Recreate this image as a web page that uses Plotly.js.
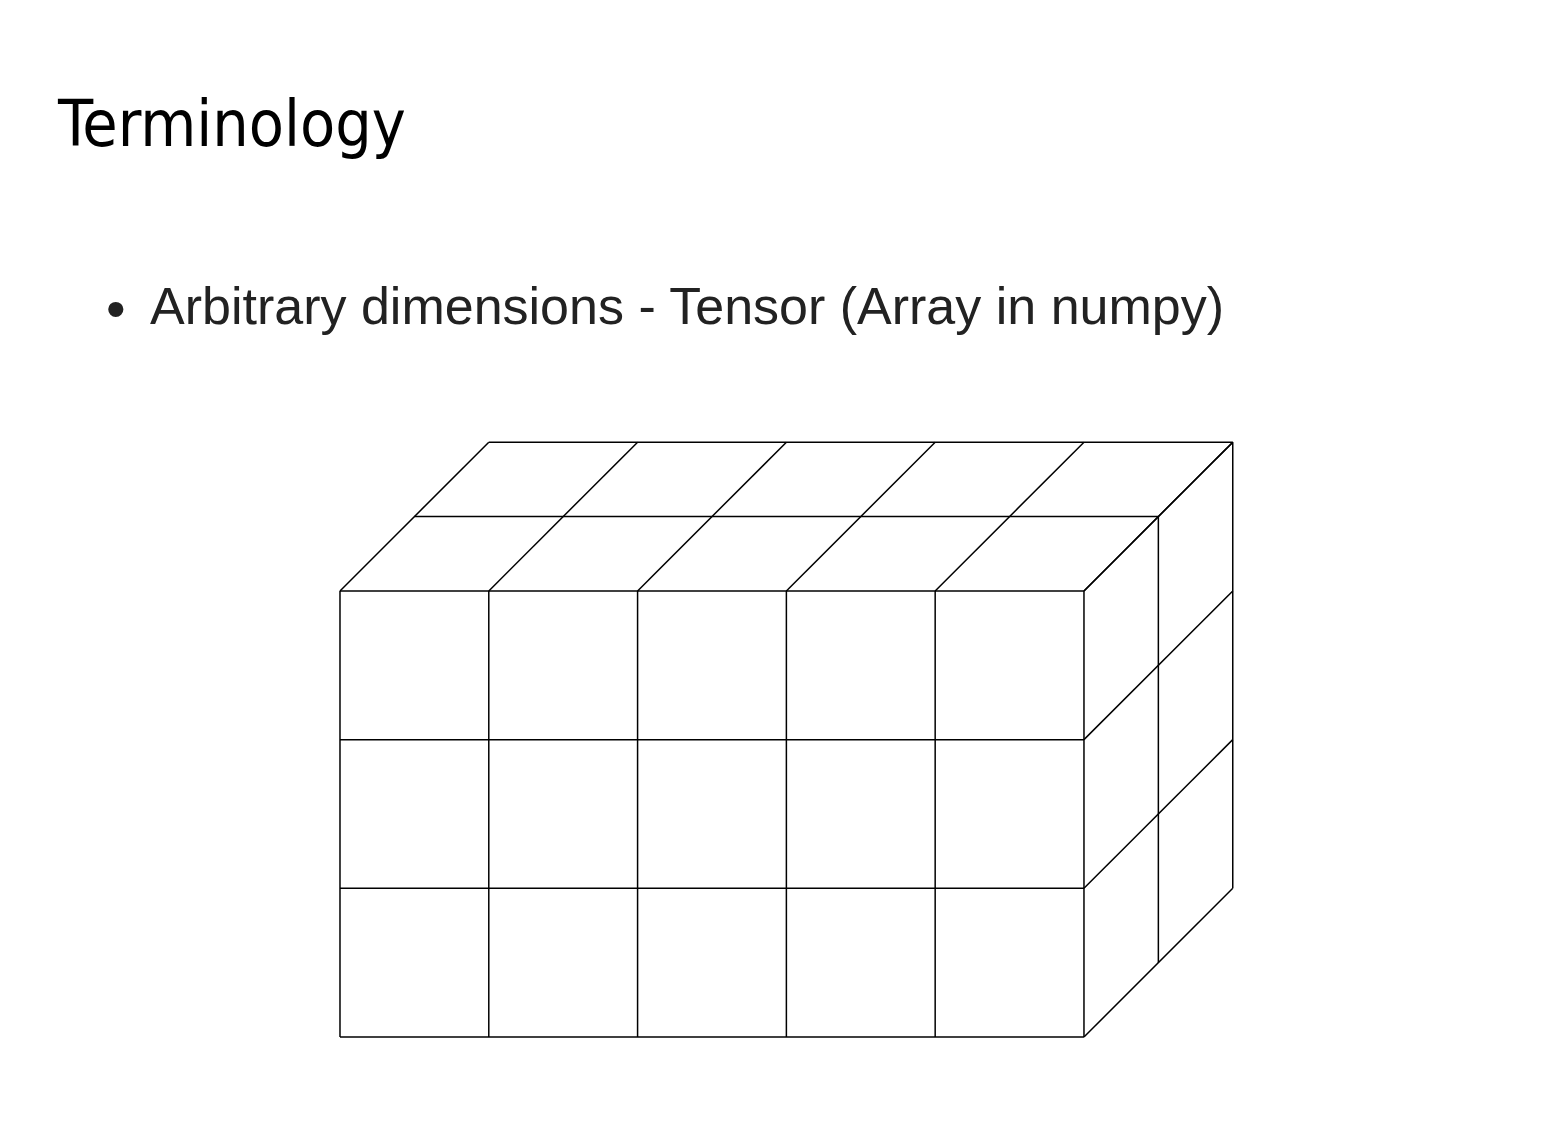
<!DOCTYPE html>
<html><head><meta charset="utf-8">
<script src="https://cdn.plot.ly/plotly-3.0.1.min.js"></script>
<style>body{margin:0;background:#fff}</style>
</head><body>
<div id="chart" style="width:1561px;height:1138px"></div>
<script>
// tensor shape: columns, rows, depth
const nCols = 5;
const nRows = 3;
const nDepth = 2;
const depthShift = 0.5; // oblique projection factor
const titleText = 'Terminology';
const bulletText = 'Arbitrary dimensions - Tensor (Array in numpy)';

function proj(x, y, z) { return [x + depthShift * z, y + depthShift * z]; }

const xs = [], ys = [];
function seg(a, b) {
  const p = proj(...a), q = proj(...b);
  xs.push(p[0], q[0], null); ys.push(p[1], q[1], null);
}
// front face
for (let i = 0; i <= nCols; i++) seg([i, 0, 0], [i, nRows, 0]);
for (let j = 0; j <= nRows; j++) seg([0, j, 0], [nCols, j, 0]);
// top face
for (let k = 1; k <= nDepth; k++) seg([0, nRows, k], [nCols, nRows, k]);
for (let i = 0; i <= nCols; i++) seg([i, nRows, 0], [i, nRows, nDepth]);
// right face
for (let k = 1; k <= nDepth; k++) seg([nCols, 0, k], [nCols, nRows, k]);
for (let j = 0; j <= nRows; j++) seg([nCols, j, 0], [nCols, j, nDepth]);

const data = [{
  x: xs, y: ys, type: 'scatter', mode: 'lines',
  line: {color: '#000', width: 1.5}, hoverinfo: 'skip'
}];

const layout = {
  width: 1561, height: 1138,
  margin: {l: 0, r: 0, t: 0, b: 0},
  paper_bgcolor: '#fff', plot_bgcolor: '#fff',
  showlegend: false,
  xaxis: {range: [-2.285, 8.206], visible: false, fixedrange: true},
  yaxis: {range: [-0.679, 6.974], visible: false, fixedrange: true},
  annotations: [
    {text: titleText, xref: 'paper', yref: 'paper', x: 55 / 1561, y: 1 - 124 / 1138,
     xanchor: 'left', yanchor: 'middle', showarrow: false,
     font: {family: 'DejaVu Sans Condensed, DejaVu Sans', size: 64, color: '#000'}},
    {text: '•', xref: 'paper', yref: 'paper', x: 104 / 1561, y: 1 - 308 / 1138,
     xanchor: 'left', yanchor: 'middle', showarrow: false,
     font: {family: 'Liberation Sans, Arial', size: 56, color: '#222'}},
    {text: bulletText, xref: 'paper', yref: 'paper', x: 148 / 1561, y: 1 - 306 / 1138,
     xanchor: 'left', yanchor: 'middle', showarrow: false,
     font: {family: 'Liberation Sans, Arial', size: 52, color: '#222'}}
  ]
};

Plotly.newPlot('chart', data, layout, {displayModeBar: false, staticPlot: true});
</script>
</body></html>
